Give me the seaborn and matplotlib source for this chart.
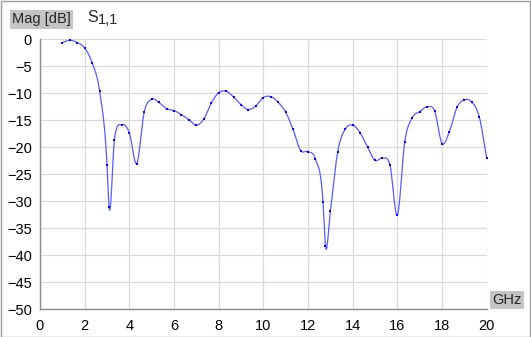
import numpy as np
import pandas as pd
import matplotlib
matplotlib.use("Agg")
import matplotlib.pyplot as plt
import seaborn as sns
from matplotlib.patches import Rectangle

# S11 magnitude samples (GHz, dB)
freq_ghz = [1.0, 1.33, 1.67, 2.0, 2.33, 2.67, 3.0, 3.09, 3.33, 3.67,
            4.0, 4.33, 4.67, 5.0, 5.33, 5.67, 6.0, 6.33, 6.67, 7.0,
            7.33, 7.67, 8.0, 8.33, 8.67, 9.0, 9.33, 9.67, 10.0, 10.33,
            10.67, 11.0, 11.33, 11.67, 12.0, 12.33, 12.67, 12.78, 13.0, 13.33,
            13.67, 14.0, 14.33, 14.67, 15.0, 15.33, 15.67, 16.0, 16.33, 16.67,
            17.0, 17.33, 17.67, 18.0, 18.33, 18.67, 19.0, 19.33, 19.67, 20.0]
mag_db = [-0.6, -0.2, -0.6, -1.6, -4.3, -9.6, -23.2, -31.0, -18.7, -15.8,
          -17.3, -23.0, -13.4, -11.1, -11.7, -12.85, -13.2, -13.95, -14.9, -15.9,
          -14.8, -11.8, -9.9, -9.6, -10.7, -12.1, -13.0, -12.3, -10.8, -10.6,
          -11.7, -13.5, -16.7, -20.6, -20.8, -22.2, -30.1, -38.2, -31.8, -20.8,
          -16.6, -15.9, -17.3, -20.0, -22.4, -22.0, -23.3, -32.6, -19.0, -14.5,
          -13.4, -12.5, -13.3, -19.3, -17.1, -12.6, -11.2, -11.6, -14.4, -22.0]

x_ticks = list(range(0, 21, 2))
y_ticks = list(range(-50, 1, 5))


def smooth_curve(x, y, n=12):
    # Catmull-Rom style hermite spline through the samples
    x = np.asarray(x, float)
    y = np.asarray(y, float)
    m = np.gradient(y, x)
    xs, ys = [], []
    for i in range(len(x) - 1):
        h = x[i + 1] - x[i]
        t = np.linspace(0, 1, n, endpoint=False)
        h00 = 2 * t**3 - 3 * t**2 + 1
        h10 = t**3 - 2 * t**2 + t
        h01 = -2 * t**3 + 3 * t**2
        h11 = t**3 - t**2
        xs.append(x[i] + t * h)
        ys.append(h00 * y[i] + h10 * h * m[i] + h01 * y[i + 1] + h11 * h * m[i + 1])
    xs.append([x[-1]])
    ys.append([y[-1]])
    return np.concatenate(xs), np.concatenate(ys)


df = pd.DataFrame({"freq": freq_ghz, "mag": mag_db})
sx, sy = smooth_curve(freq_ghz, mag_db)
curve = pd.DataFrame({"freq": sx, "mag": sy})

sns.set_style("white")
plt.rcParams["font.family"] = ["Liberation Sans", "DejaVu Sans"]

fig = plt.figure(figsize=(5.31, 3.37), dpi=100)
ax = fig.add_axes([40 / 531, (337 - 309.3) / 337, 446.7 / 531, 270 / 337])

sns.lineplot(data=curve, x="freq", y="mag", ax=ax, color="#5a5aff",
             linewidth=0.9, estimator=None, sort=False)
sns.scatterplot(data=df, x="freq", y="mag", ax=ax, color="#0000ff",
                marker="s", s=3.5, linewidth=0, zorder=3)

ax.set_xlim(0, 20)
ax.set_ylim(-50, 0)
ax.set_xticks(x_ticks)
ax.set_yticks(y_ticks)
ax.set_xlabel("")
ax.set_ylabel("")
ax.grid(True, color="#d9d9d9", linewidth=0.9)
for side in ["top", "right"]:
    ax.spines[side].set_visible(False)
for side in ["left", "bottom"]:
    ax.spines[side].set_color("#8c8c8c")
    ax.spines[side].set_linewidth(1.0)
ax.tick_params(axis="both", direction="out", length=4, width=0.8,
               color="#8c8c8c", labelsize=10.5, labelcolor="#000000", pad=2)
ax.tick_params(axis="x", pad=3)

# header labels
fig.text(12 / 531, 1 - 19.5 / 337, "Mag [dB]", fontsize=10.5, va="center", ha="left",
         bbox=dict(boxstyle="square,pad=0.15", fc="#c4c4c4", ec="none"))
fig.text(87 / 531, 1 - 17.5 / 337, "S", fontsize=11.5, va="center", ha="left")
fig.text(98 / 531, 1 - 20 / 337, "1,1", fontsize=10.5, va="center", ha="left")
fig.text(492 / 531, 1 - 300 / 337, "GHz", fontsize=10.5, va="center", ha="left",
         bbox=dict(boxstyle="square,pad=0.15", fc="#c4c4c4", ec="none"))

# outer frame
fig.patches.append(Rectangle((0.001, 0.001), 0.997, 0.997, transform=fig.transFigure,
                             fill=False, ec="#9a9a9a", lw=1.0))

fig.savefig("out.png", dpi=100)
